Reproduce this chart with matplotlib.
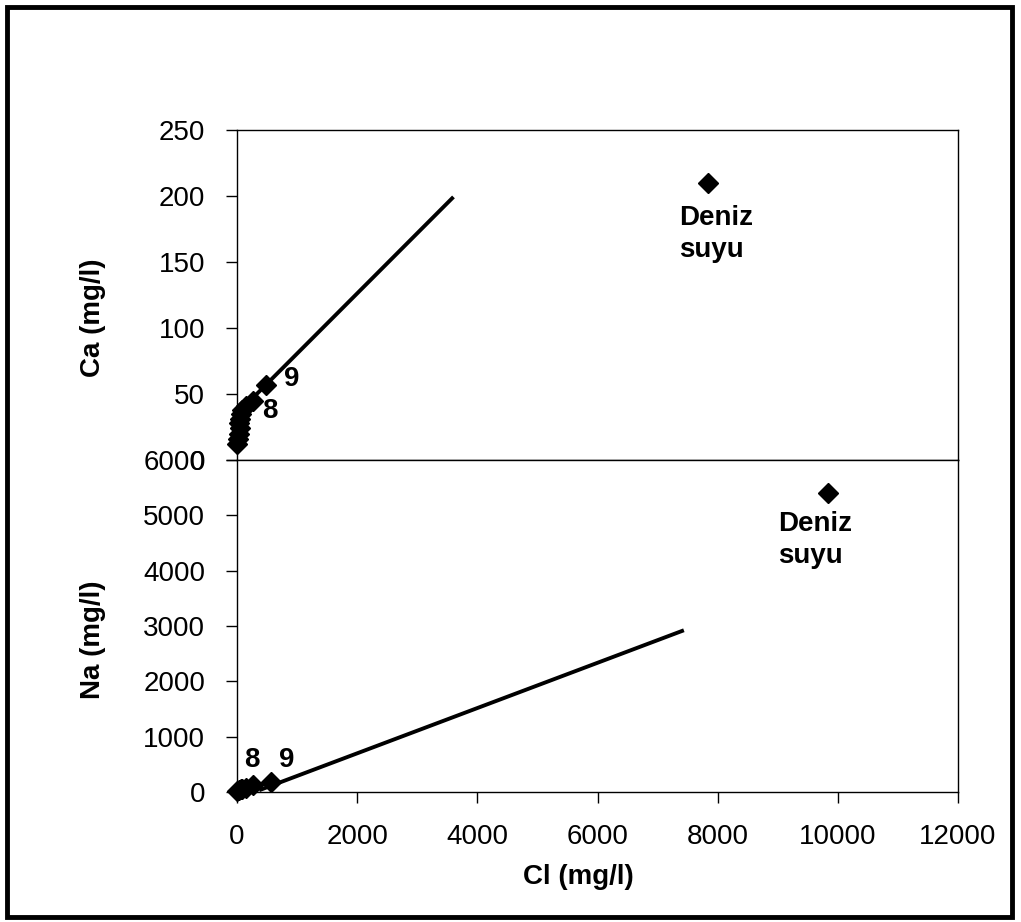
import numpy as np
import matplotlib
matplotlib.use("Agg")
import matplotlib.pyplot as plt
from matplotlib.patches import Rectangle

plt.rcParams['font.family'] = ['Liberation Sans', 'DejaVu Sans']

# Ca - Cl verileri
cl_ca = [5, 20, 30, 45, 30, 55, 60, 90, 150, 270, 490, 7840]
ca = [12, 16, 20, 24, 28, 31, 35, 38, 41, 45, 57, 210]
ca_fit = [0.0456, 35.0]        # egim, kesisim
ca_fit_range = [100, 3580]

# Na - Cl verileri
cl_na = [5, 30, 60, 90, 150, 270, 560, 9840]
na = [10, 30, 60, 50, 80, 120, 180, 5400]
na_fit = [0.409, -119.0]
na_fit_range = [400, 7407]

ca_ticks = [0, 50, 100, 150, 200, 250]
na_ticks = [0, 1000, 2000, 3000, 4000, 5000, 6000]
cl_ticks = [0, 2000, 4000, 6000, 8000, 10000, 12000]

W, H = 1021, 922
fig = plt.figure(figsize=(W / 100, H / 100), dpi=100)

def fx(px):
    return px / W

def fy(py):
    return 1 - py / H

left, right = fx(237), fx(958)
ax1 = fig.add_axes([left, fy(460), right - left, fy(130) - fy(460)])
ax2 = fig.add_axes([left, fy(792), right - left, fy(460) - fy(792)])

fs = 20
for ax in (ax1, ax2):
    ax.set_xlim(0, 12000)
    ax.tick_params(direction='out', length=8, width=1, pad=15, labelsize=fs)
    for s in ax.spines.values():
        s.set_linewidth(1)

# ust panel
ax1.plot(cl_ca, ca, linestyle='none', marker='D', markersize=10, color='black',
         clip_on=False)
xf = np.array(ca_fit_range)
ax1.plot(xf, ca_fit[0] * xf + ca_fit[1], color='black', lw=2.8)
ax1.set_ylim(0, 250)
ax1.set_yticks(ca_ticks)
ax1.set_xticks([])
ax1.text(549, 37, '8', fontsize=fs, fontweight='bold', ha='center', va='center')
ax1.text(915, 61, '9', fontsize=fs, fontweight='bold', ha='center', va='center')
ax1.text(7357, 171, 'Deniz\nsuyu', fontsize=fs, fontweight='bold', ha='left',
         va='center', linespacing=1.3)

# alt panel
ax2.plot(cl_na, na, linestyle='none', marker='D', markersize=10, color='black',
         clip_on=False)
xf = np.array(na_fit_range)
ax2.plot(xf, na_fit[0] * xf + na_fit[1], color='black', lw=2.8)
ax2.set_ylim(0, 6000)
ax2.set_yticks(na_ticks)
ax2.set_xticks(cl_ticks)
ax2.text(250, 579, '8', fontsize=fs, fontweight='bold', ha='center', va='center')
ax2.text(832, 579, '9', fontsize=fs, fontweight='bold', ha='center', va='center')
ax2.text(9005, 4557, 'Deniz\nsuyu', fontsize=fs, fontweight='bold', ha='left',
         va='center', linespacing=1.3)

fig.text(fx(93), fy(318), 'Ca (mg/l)', rotation=90, fontsize=fs, fontweight='bold',
         ha='center', va='center')
fig.text(fx(93), fy(640), 'Na (mg/l)', rotation=90, fontsize=fs, fontweight='bold',
         ha='center', va='center')
fig.text(fx(578), fy(877), 'Cl (mg/l)', fontsize=fs, fontweight='bold',
         ha='center', va='center')

# cerceve
fig.patches.append(Rectangle((fx(7), fy(917)), fx(1012) - fx(7), fy(7) - fy(917),
                             transform=fig.transFigure, fill=False,
                             edgecolor='black', linewidth=3.5))

fig.savefig('out.png', dpi=100)
